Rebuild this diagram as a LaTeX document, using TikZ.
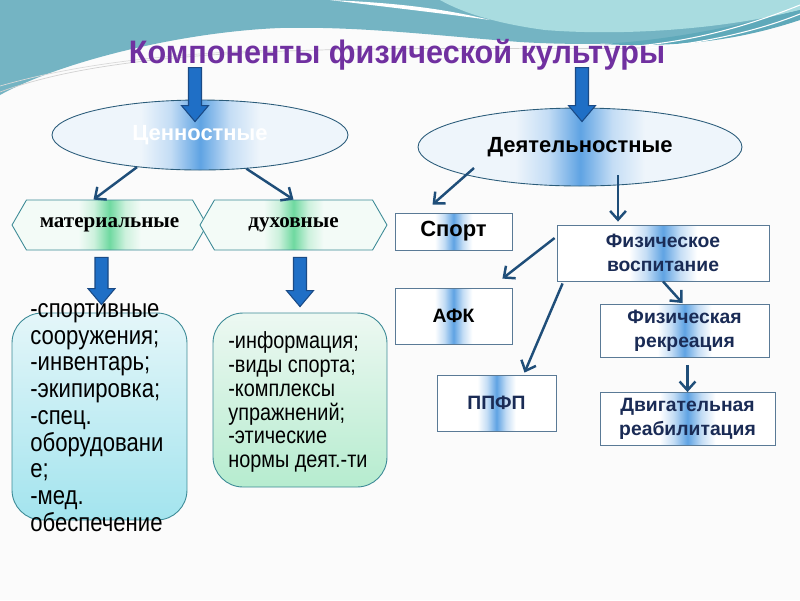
\documentclass[tikz,border=0pt]{standalone}
\usepackage{fontspec}
\setmainfont{Liberation Sans}
\newfontfamily\titlefont[FakeStretch=0.94]{Liberation Sans}
\newfontfamily\listfont[FakeStretch=0.85]{Liberation Sans}
\newfontfamily\hexfont{Liberation Serif}
\usetikzlibrary{shapes.geometric,shapes.symbols,arrows.meta,calc,positioning}

\definecolor{titlepurple}{HTML}{7030A0}
\definecolor{tealdark}{HTML}{74B4C3}
\definecolor{teallight}{HTML}{A9DCE0}
\definecolor{tealband}{HTML}{5FA9BA}
\definecolor{pagebg}{HTML}{FBFBFB}
\definecolor{arrowblue}{HTML}{1F4E79}
\definecolor{blockfill}{HTML}{1F6FC6}
\definecolor{blockedge}{HTML}{1A4A85}
\definecolor{bandblue}{HTML}{5FA3E3}
\definecolor{bandsoft}{HTML}{C4DDF5}
\definecolor{ellbase}{HTML}{EEF5FB}
\definecolor{bandgreen}{HTML}{6FD9A0}
\definecolor{greensoft}{HTML}{CDF1DD}
\definecolor{hexbase}{HTML}{F3FBF7}
\definecolor{navytext}{HTML}{1A2B55}
\definecolor{boxedge}{HTML}{5A7A96}
\definecolor{rndedge}{HTML}{3C8A96}
\definecolor{elledge}{HTML}{2B5C7A}
\definecolor{cyantop}{HTML}{E4F6F9}
\definecolor{cyanbot}{HTML}{A3E4EE}
\definecolor{greentop}{HTML}{EDF8F2}
\definecolor{greenbot}{HTML}{B6ECCF}

\pgfdeclarehorizontalshading{ellband}{100bp}{color(0bp)=(ellbase); color(40bp)=(ellbase);
  color(45bp)=(bandsoft); color(50bp)=(bandblue); color(55bp)=(bandsoft); color(60bp)=(ellbase); color(100bp)=(ellbase)}
\pgfdeclarehorizontalshading{rectband}{100bp}{color(0bp)=(white); color(42bp)=(white);
  color(46bp)=(bandsoft); color(50bp)=(bandblue); color(54bp)=(bandsoft); color(58bp)=(white); color(100bp)=(white)}
\pgfdeclarehorizontalshading{hexband}{100bp}{color(0bp)=(hexbase); color(42bp)=(hexbase);
  color(46bp)=(greensoft); color(50bp)=(bandgreen); color(54bp)=(greensoft); color(58bp)=(hexbase); color(100bp)=(hexbase)}

\newcommand\bigarrow[2]{\filldraw[blockarrow] let \p1=(#1), \p2=(#2) in
  (\x1-0.13cm,\y1) -- (\x1+0.13cm,\y1) -- (\x1+0.13cm,\y2+0.32cm) -- (\x1+0.27cm,\y2+0.32cm)
  -- (\x1,\y2) -- (\x1-0.27cm,\y2+0.32cm) -- (\x1-0.13cm,\y2+0.32cm) -- cycle;}

\begin{document}
\begin{tikzpicture}[x=0.02cm,y=-0.02cm,
  oval/.style={ellipse,draw=elledge,line width=0.5pt,shading=ellband},
  hexbox/.style={signal,signal to=east and west,signal pointer angle=120,draw=rndedge,line width=0.5pt,
    shading=hexband,minimum height=1cm,inner sep=0pt,font=\hexfont\bfseries\fontsize{12}{14}\selectfont},
  listbox/.style={rounded corners=0.6cm,draw=rndedge,line width=0.5pt},
  kindbox/.style={rectangle,draw=boxedge,line width=0.5pt,shading=rectband,align=center,
    text=navytext,font=\bfseries\fontsize{11}{13.6}\selectfont},
  thinarrow/.style={draw=arrowblue,line width=1.4pt,-{Straight Barb[length=5pt,width=9pt]}},
  blockarrow/.style={fill=blockfill,draw=blockedge,line width=0.6pt}]
\useasboundingbox (0,0) rectangle (800,600);
\fill[pagebg] (0,0) rectangle (800,600);

% background waves
\fill[tealdark] (0,0) -- (800,0) -- (800,15) .. controls (720,40) and (620,48) .. (520,42)
  .. controls (440,36) and (360,26) .. (280,28) .. controls (180,32) and (60,62) .. (0,95) -- cycle;
\fill[teallight] (440,0) -- (800,0) -- (800,10) .. controls (720,30) and (620,36) .. (545,30)
  .. controls (500,24) and (465,14) .. (440,0) -- cycle;
\fill[tealband] (600,44) .. controls (680,40) and (750,22) .. (800,10) -- (800,20)
  .. controls (740,40) and (680,48) .. (600,44) -- cycle;
\fill[white] (330,0) .. controls (400,3) and (445,9) .. (490,20) .. controls (440,13) and (395,8) .. (330,0) -- cycle;
\draw[white,line width=0.6pt] (610,48) .. controls (690,44) and (750,25) .. (800,5);
\draw[white,line width=0.6pt] (620,50) .. controls (700,46) and (760,30) .. (800,14);
\draw[gray!35,line width=0.4pt] (0,92) .. controls (60,70) and (140,58) .. (260,52) .. controls (400,46) and (520,50) .. (640,48);
\draw[gray!30,line width=0.4pt] (0,86) .. controls (70,66) and (150,55) .. (270,50);

% title and the two groups
\draw (397,55) node[text=titlepurple,font=\titlefont\bfseries\fontsize{18.5}{20}\selectfont](title) {Компоненты физической культуры};
\draw (200,135) node[oval,minimum width=5.92cm,minimum height=1.4cm,text=white,font=\bfseries\fontsize{12.5}{14}\selectfont](val) {Ценностные};
\draw (580,147) node[oval,minimum width=6.48cm,minimum height=1.56cm,font=\bfseries\fontsize{12.5}{14}\selectfont](act) {Деятельностные};

\draw (109.5,225) node[hexbox,minimum width=3.9cm](mat) {материальные};
\draw (293.5,225) node[hexbox,minimum width=3.74cm](spirit) {духовные};

\draw (99.5,416.5) node[listbox,minimum width=3.5cm,minimum height=4.14cm,top color=cyantop,bottom color=cyanbot](matbox) {};
\draw (300,400) node[listbox,minimum width=3.48cm,minimum height=3.48cm,top color=greentop,bottom color=greenbot](spiritbox) {};
\draw (30,417.5) node[anchor=west,inner sep=0pt,align=left,font=\listfont\fontsize{14.8}{15.2}\selectfont](matlist)
  {-спортивные\\сооружения;\\-инвентарь;\\-экипировка;\\-спец.\\оборудовани\\е;\\-мед.\\обеспечение};
\draw (228,402) node[anchor=west,inner sep=0pt,align=left,font=\listfont\fontsize{13.3}{13.6}\selectfont](spiritlist)
  {-информация;\\-виды спорта;\\-комплексы\\упражнений;\\-этические\\нормы деят.-ти};

% kinds of activity
\draw (453.5,231.5) node[kindbox,minimum width=2.34cm,minimum height=0.74cm,text=black,font=\bfseries\fontsize{12.5}{14}\selectfont](sport) {Спорт};
\draw (663,253) node[kindbox,minimum width=4.24cm,minimum height=1.12cm](fv) {Физическое\\воспитание};
\draw (453.5,316) node[kindbox,minimum width=2.34cm,minimum height=1.12cm,text=black](afk) {АФК};
\draw (684.5,331) node[kindbox,minimum width=3.38cm,minimum height=1cm](fr) {Физическая\\рекреация};
\draw (496.5,403) node[kindbox,minimum width=2.38cm,minimum height=1.12cm](ppfp) {ППФП};
\draw (687.5,419) node[kindbox,minimum width=3.5cm,minimum height=1cm](dr) {Двигательная\\реабилитация};

% block arrows
\coordinate (a1s) at ($(val.north)+(-5,-32)$);
\coordinate (a1e) at ($(val.north)+(-5,22)$);
\coordinate (a2s) at ($(act.north)+(2,-40)$);
\coordinate (a2e) at ($(act.north)+(2,14)$);
\coordinate (a3s) at ($(mat.south)+(-8,7)$);
\coordinate (a3e) at ($(matbox.north)+(1.5,-8)$);
\coordinate (a4s) at ($(spirit.south)+(6.5,7)$);
\coordinate (a4e) at ($(spiritbox.north)+(0,-6)$);
\bigarrow{a1s}{a1e}
\bigarrow{a2s}{a2e}
\bigarrow{a3s}{a3e}
\bigarrow{a4s}{a4e}

% thin arrows
\draw[thinarrow] (val.207) -- ($(mat.north)+(-16,0)$);
\draw[thinarrow] (val.324) -- (spirit.north);
\draw[thinarrow] ($(act.center)+(-106,21)$) -- ($(sport.north)+(-21,-8)$);
\draw[thinarrow] ($(act.center)+(38,28)$) -- ($(fv.north)+(-45,-3)$);
\draw[thinarrow] ($(fv.west)+(-2,-15)$) -- ($(afk.north east)+(-10,-9)$);
\draw[thinarrow] ($(fv.south west)+(6,2)$) -- ($(ppfp.north)+(28,-2)$);
\draw[thinarrow] (fv.south) -- ($(fr.north)+(-2,-1)$);
\draw[thinarrow] ($(fr.south)+(3,7)$) -- (dr.north);
\end{tikzpicture}
\end{document}
